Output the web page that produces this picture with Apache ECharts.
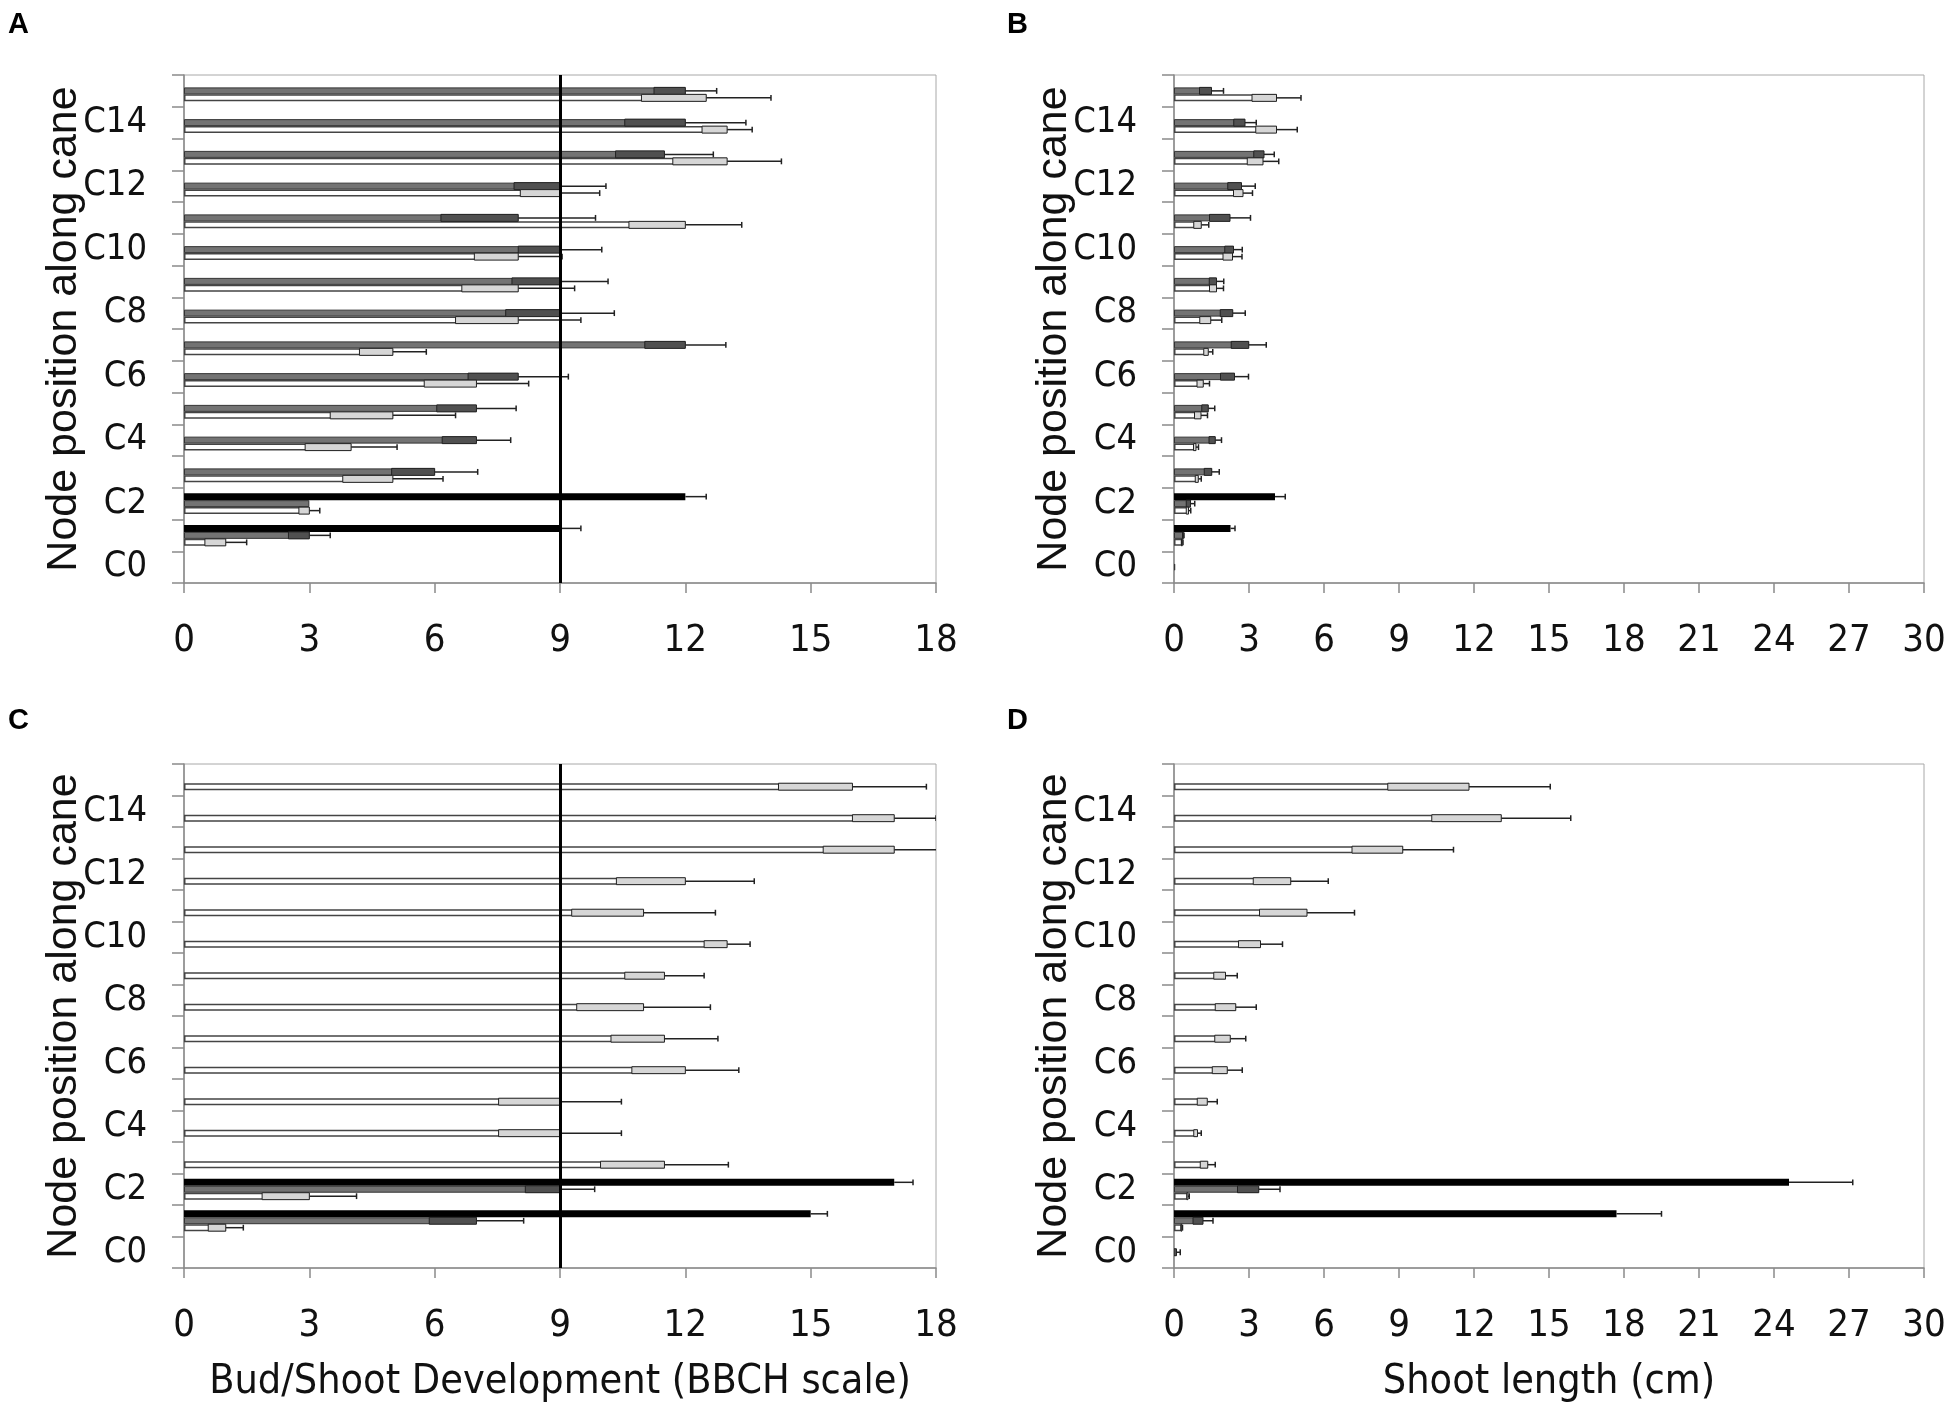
<!DOCTYPE html>
<html>
<head>
<meta charset="utf-8">
<script src="https://cdn.jsdelivr.net/npm/echarts@6/dist/echarts.min.js"></script>
<style>
html, body { margin: 0; padding: 0; background: #fff; }
#container { width: 1950px; height: 1409px; }
</style>
</head>
<body>
<div id="container"></div>
<script>
// node positions along the cane, bottom (C0) to top (C15)
var nodes = ['C0','C1','C2','C3','C4','C5','C6','C7','C8','C9','C10','C11','C12','C13','C14','C15'];
var bbchTicks = [0, 18, 3];
var lengthTicks = [0, 30, 3];

// panel A - bud/shoot development, first date
var blackA    = [null, 9, 12, null, null, null, null, null, null, null, null, null, null, null, null, null];
var blackAErr = [null, 0.5, 0.5, null, null, null, null, null, null, null, null, null, null, null, null, null];
var grayA     = [null, 3, 3, 6, 7, 7, 8, 12, 9, 9, 9, 8, 9, 11.5, 12, 12];
var grayAErr  = [null, 0.5, 0, 1.03, 0.82, 0.95, 1.2, 0.97, 1.3, 1.15, 1.0, 1.85, 1.1, 1.17, 1.45, 0.75];
var whiteA    = [null, 1, 3, 5, 4, 5, 7, 5, 8, 8, 8, 12, 9, 13, 13, 12.5];
var whiteAErr = [null, 0.5, 0.25, 1.2, 1.1, 1.5, 1.25, 0.8, 1.5, 1.35, 1.05, 1.35, 0.95, 1.3, 0.6, 1.55];

// panel B - shoot length, first date
var blackB    = [null, 2.26, 4.04, null, null, null, null, null, null, null, null, null, null, null, null, null];
var blackBErr = [null, 0.18, 0.41, null, null, null, null, null, null, null, null, null, null, null, null, null];
var grayB     = [0.05, 0.37, 0.66, 1.51, 1.65, 1.37, 2.42, 2.99, 2.35, 1.7, 2.38, 2.24, 2.7, 3.6, 2.84, 1.5];
var grayBErr  = [0, 0.03, 0.17, 0.3, 0.25, 0.26, 0.56, 0.7, 0.5, 0.29, 0.35, 0.82, 0.55, 0.41, 0.45, 0.48];
var whiteB    = [null, 0.33, 0.58, 0.97, 0.88, 1.08, 1.17, 1.37, 1.47, 1.7, 2.34, 1.09, 2.76, 3.56, 4.1, 4.1];
var whiteBErr = [null, 0.03, 0.09, 0.12, 0.1, 0.26, 0.25, 0.18, 0.44, 0.28, 0.38, 0.3, 0.38, 0.63, 0.83, 0.98];

// panel C - bud/shoot development, second date
var blackC    = [null, 15, 17, null, null, null, null, null, null, null, null, null, null, null, null, null];
var blackCErr = [null, 0.4, 0.45, null, null, null, null, null, null, null, null, null, null, null, null, null];
var grayC     = [null, 7, 9, null, null, null, null, null, null, null, null, null, null, null, null, null];
var grayCErr  = [null, 1.13, 0.83, null, null, null, null, null, null, null, null, null, null, null, null, null];
var whiteC    = [null, 1, 3, 11.5, 9, 9, 12, 11.5, 11, 11.5, 13, 11, 12, 17, 17, 16];
var whiteCErr = [null, 0.42, 1.13, 1.53, 1.47, 1.47, 1.28, 1.28, 1.6, 0.95, 0.55, 1.72, 1.65, 1.7, 1.0, 1.77];

// panel D - shoot length, second date
var blackD    = [null, 17.7, 24.6, null, null, null, null, null, null, null, null, null, null, null, null, null];
var blackDErr = [null, 1.8, 2.55, null, null, null, null, null, null, null, null, null, null, null, null, null];
var grayD     = [0.1, 1.16, 3.39, null, null, null, null, null, null, null, null, null, null, null, null, null];
var grayDErr  = [0.15, 0.4, 0.85, null, null, null, null, null, null, null, null, null, null, null, null, null];
var whiteD    = [null, 0.31, 0.56, 1.35, 0.94, 1.33, 2.13, 2.25, 2.47, 2.06, 3.46, 5.32, 4.67, 9.15, 13.09, 11.8];
var whiteDErr = [null, 0.03, 0.05, 0.3, 0.15, 0.4, 0.6, 0.62, 0.82, 0.47, 0.88, 1.9, 1.5, 2.03, 2.78, 3.25];

var CAT_GAP = 0.34;
var NARROW = "'Liberation Sans Narrow', 'DejaVu Sans Condensed', sans-serif";
var SANS = "'Liberation Sans', Arial, sans-serif";

var dom = document.getElementById('container');
var myChart = echarts.init(dom, null, {renderer: 'canvas'});

var grids = [
    {left: 184, top: 75, width: 752, height: 508},
    {left: 1174, top: 75, width: 750, height: 508},
    {left: 184, top: 764, width: 752, height: 504},
    {left: 1174, top: 764, width: 750, height: 504}
];
grids.forEach(function (g) {
    g.show = true;
    g.borderColor = '#a8a8a8';
    g.borderWidth = 1;
    g.backgroundColor = 'transparent';
    g.containLabel = false;
    g.outerBoundsMode = 'none';
});

function xAxisFor(gi, ticks, name) {
    return {
        type: 'value', gridIndex: gi,
        min: ticks[0], max: ticks[1], interval: ticks[2],
        name: name || '', nameLocation: 'middle', nameGap: 94, nameMoveOverlap: false,
        nameTextStyle: {fontFamily: NARROW, fontSize: 41, color: '#111'},
        axisLine: {show: true, lineStyle: {color: '#8a8a8a', width: 1.5}},
        axisTick: {show: true, inside: false, length: 10, lineStyle: {color: '#8a8a8a', width: 1.5}},
        axisLabel: {fontFamily: NARROW, fontSize: 38, color: '#111', margin: 39},
        splitLine: {show: false}
    };
}

function yAxisFor(gi) {
    return {
        type: 'category', gridIndex: gi, data: nodes,
        name: 'Node position along cane', nameLocation: 'middle', nameRotate: 90, nameGap: 98,
        nameMoveOverlap: false,
        nameTextStyle: {fontFamily: SANS, fontSize: 43, color: '#111'},
        axisLine: {show: true, lineStyle: {color: '#8a8a8a', width: 1.5}},
        axisTick: {show: true, interval: 0, inside: false, length: 12, lineStyle: {color: '#8a8a8a', width: 1.5}},
        axisLabel: {interval: 1, fontFamily: NARROW, fontSize: 36, color: '#111', margin: 37},
        splitLine: {show: false}
    };
}

function barSeries(gi, vals, style, z) {
    return {
        type: 'bar', xAxisIndex: gi, yAxisIndex: gi,
        data: vals, barCategoryGap: (CAT_GAP * 100) + '%', barGap: '0%',
        itemStyle: style, silent: true, z: z || 2,
        animation: false
    };
}

function errData(vals, errs) {
    var out = [];
    for (var i = 0; i < vals.length; i++) {
        if (vals[i] != null && errs[i]) out.push([i, vals[i], errs[i]]);
    }
    return out;
}

// slot: 0 = top bar (black), 1 = middle (gray), 2 = bottom (white)
// the part of the error bar inside the bar is shown as a shaded box (boxFill), none for black bars
function errSeries(gi, vals, errs, slot, boxFill) {
    return {
        type: 'custom', xAxisIndex: gi, yAxisIndex: gi,
        data: errData(vals, errs), encode: {x: 1, y: 0},
        clip: true, silent: true, z: 4, animation: false,
        renderItem: function (params, api) {
            var cat = api.value(0), v = api.value(1), e = api.value(2);
            var band = api.size([0, 1])[1];
            var bw = band * (1 - CAT_GAP) / 3;
            var off = (slot - 1) * bw;
            var p0 = api.coord([Math.max(v - e, 0), cat]);
            var p1 = api.coord([v, cat]);
            var p2 = api.coord([v + e, cat]);
            var yc = p1[1] + off;
            var cap = bw * 0.42;
            var kids = [
                {type: 'line', shape: {x1: p1[0], y1: yc, x2: p2[0], y2: yc},
                 style: {stroke: '#222', lineWidth: 1.5}},
                {type: 'line', shape: {x1: p2[0], y1: yc - cap, x2: p2[0], y2: yc + cap},
                 style: {stroke: '#222', lineWidth: 1.5}}
            ];
            if (boxFill) {
                kids.push({type: 'rect', shape: {x: p0[0], y: yc - bw / 2, width: p1[0] - p0[0], height: bw},
                           style: {fill: boxFill, stroke: '#222', lineWidth: 1}});
            }
            return {type: 'group', children: kids};
        }
    };
}

function panelSeries(gi, bk, bkE, gr, grE, wh, whE, withLine) {
    var black = barSeries(gi, bk, {color: '#000'});
    if (withLine) {
        black.markLine = {
            silent: true, symbol: ['none', 'none'], animation: false,
            label: {show: false},
            lineStyle: {color: '#000', width: 3, type: 'solid'},
            data: [{xAxis: 9}]
        };
    }
    return [
        black,
        barSeries(gi, gr, {color: '#737373', borderColor: '#333', borderWidth: 1}),
        barSeries(gi, wh, {color: '#fff', borderColor: '#444', borderWidth: 1.5}),
        errSeries(gi, bk, bkE, 0, null),
        errSeries(gi, gr, grE, 1, '#505050'),
        errSeries(gi, wh, whE, 2, '#d6d6d6')
    ];
}

var letters = [['A', 8, 10], ['B', 1007, 10], ['C', 8, 706], ['D', 1007, 706]];

var option = {
    backgroundColor: '#fff',
    animation: false,
    grid: grids,
    xAxis: [
        xAxisFor(0, bbchTicks),
        xAxisFor(1, lengthTicks),
        xAxisFor(2, bbchTicks, 'Bud/Shoot Development (BBCH scale)'),
        xAxisFor(3, lengthTicks, 'Shoot length (cm)')
    ],
    yAxis: [yAxisFor(0), yAxisFor(1), yAxisFor(2), yAxisFor(3)],
    graphic: letters.map(function (l) {
        return {type: 'text', left: l[1], top: l[2],
                style: {text: l[0], font: 'bold 29px ' + SANS, fill: '#000'}};
    }),
    series: [].concat(
        panelSeries(0, blackA, blackAErr, grayA, grayAErr, whiteA, whiteAErr, true),
        panelSeries(1, blackB, blackBErr, grayB, grayBErr, whiteB, whiteBErr, false),
        panelSeries(2, blackC, blackCErr, grayC, grayCErr, whiteC, whiteCErr, true),
        panelSeries(3, blackD, blackDErr, grayD, grayDErr, whiteD, whiteDErr, false)
    )
};

if (option && typeof option === 'object') {
    myChart.setOption(option, true);
}
</script>
</body>
</html>
